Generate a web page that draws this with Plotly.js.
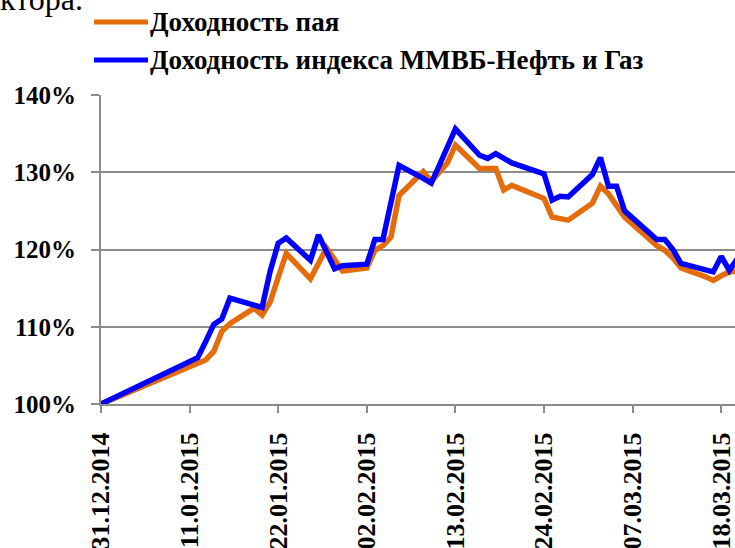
<!DOCTYPE html>
<html>
<head>
<meta charset="utf-8">
<script src="https://cdn.plot.ly/plotly-3.0.1.min.js"></script>
<style>html,body{margin:0;padding:0;background:#fff;}#chart{width:735px;height:548px;}</style>
</head>
<body>
<div id="chart"></div>
<script>
// Trading dates
const dates = [
  '2014-12-31',
  '2015-01-12','2015-01-13','2015-01-14','2015-01-15','2015-01-16',
  '2015-01-19','2015-01-20','2015-01-21','2015-01-22','2015-01-23',
  '2015-01-26','2015-01-27','2015-01-28','2015-01-29','2015-01-30',
  '2015-02-02','2015-02-03','2015-02-04','2015-02-05','2015-02-06',
  '2015-02-09','2015-02-10','2015-02-11','2015-02-12','2015-02-13',
  '2015-02-16','2015-02-17','2015-02-18','2015-02-19','2015-02-20',
  '2015-02-24','2015-02-25','2015-02-26','2015-02-27',
  '2015-03-02','2015-03-03','2015-03-04','2015-03-05','2015-03-06',
  '2015-03-10','2015-03-11','2015-03-12','2015-03-13',
  '2015-03-16','2015-03-17','2015-03-18','2015-03-19','2015-03-20'
];
// Доходность пая, %
const fundReturn = [
  100,
  105.2,105.7,106.8,109.4,110.4,
  112.4,111.5,113.2,116.4,119.5,
  116.2,118.2,120.2,118.7,117.2,
  117.6,119.9,120.5,121.6,127.0,
  130.1,128.8,130.0,131.2,133.5,
  130.5,130.5,130.5,127.7,128.3,
  126.6,124.2,124.0,123.8,
  126.0,128.2,127.2,125.8,124.2,
  120.5,119.9,118.9,117.6,
  116.5,116.0,116.6,117.1,117.2
];
// Доходность индекса ММВБ-Нефть и Газ, %
const indexReturn = [
  100,
  106.0,108.1,110.3,111.0,113.7,
  112.8,112.5,117.2,120.8,121.5,
  118.6,121.9,119.7,117.5,117.9,
  118.1,121.3,121.3,126.1,130.9,
  129.2,128.6,130.9,133.3,135.6,
  132.2,131.8,132.4,131.8,131.2,
  129.8,126.4,126.9,126.8,
  129.7,131.9,128.2,128.2,125.0,
  121.3,121.3,120.0,118.2,
  117.5,117.1,119.1,117.3,118.8
];
const seriesNames = ['Доходность пая', 'Доходность индекса ММВБ-Нефть и Газ'];
const seriesColors = ['#E46C0A', '#0000FF'];
const yTicks = [100, 110, 120, 130, 140];

const W = 735, H = 548;
const mL = 101, mR = 0, mT = 95, mB = 144;
const pw = W - mL - mR, ph = H - mT - mB;
const px2x = p => (p - mL) / pw;
const px2y = p => 1 + (mT - p) / ph;

const font = 'Liberation Serif, Times New Roman, serif';

const traces = [
  {x: dates, y: fundReturn, name: seriesNames[0], type: 'scatter', mode: 'lines',
   line: {color: seriesColors[0], width: 5.5, shape: 'linear'}},
  {x: dates, y: indexReturn, name: seriesNames[1], type: 'scatter', mode: 'lines',
   line: {color: seriesColors[1], width: 5.5, shape: 'linear'}}
];

const legendY = [22, 60];
const shapes = [], annotations = [];
seriesNames.forEach((n, i) => {
  shapes.push({type: 'line', xref: 'paper', yref: 'paper',
    x0: px2x(94), x1: px2x(148), y0: px2y(legendY[i]), y1: px2y(legendY[i]),
    line: {color: seriesColors[i], width: 5}});
  annotations.push({xref: 'paper', yref: 'paper', x: px2x(148), y: px2y(legendY[i]),
    xanchor: 'left', yanchor: 'middle', showarrow: false, text: '<b>' + n + '</b>',
    font: {family: font, size: 27, color: '#000'}});
});
annotations.push({xref: 'paper', yref: 'paper', x: px2x(-2), y: px2y(19),
  xanchor: 'left', yanchor: 'bottom', showarrow: false, text: 'ктора.',
  font: {family: font, size: 32, color: '#000'}});

const layout = {
  width: W, height: H,
  margin: {l: mL, r: mR, t: mT, b: mB, pad: 0},
  paper_bgcolor: '#fff', plot_bgcolor: '#fff',
  showlegend: false,
  xaxis: {
    type: 'date',
    range: ['2014-12-31', '2015-03-19 17:00'],
    tick0: '2014-12-31', dtick: 11 * 86400000,
    tickformat: '%d.%m.%Y', tickangle: -90,
    ticklabeloverflow: 'allow',
    showgrid: false, zeroline: false,
    showline: true, linecolor: '#8c8c8c', linewidth: 2,
    ticks: 'outside', ticklen: 7, tickwidth: 2, tickcolor: '#8c8c8c',
    ticklabelstandoff: 9,
    tickfont: {family: font, size: 26, color: '#000', weight: 'bold'},
    fixedrange: true
  },
  yaxis: {
    range: [100, 140],
    tickvals: yTicks, ticktext: yTicks.map(v => v + '%'),
    showgrid: true, gridcolor: '#8c8c8c', gridwidth: 2,
    zeroline: false,
    showline: true, linecolor: '#8c8c8c', linewidth: 2,
    ticks: 'outside', ticklen: 8, tickwidth: 2, tickcolor: '#8c8c8c',
    ticklabelstandoff: 10,
    tickfont: {family: font, size: 25, color: '#000', weight: 'bold'},
    fixedrange: true
  },
  shapes: shapes,
  annotations: annotations
};

Plotly.newPlot('chart', traces, layout, {staticPlot: true, displayModeBar: false});
</script>
</body>
</html>
